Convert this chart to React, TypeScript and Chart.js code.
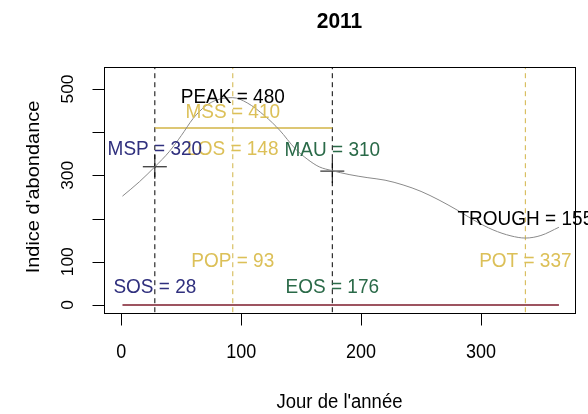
import React, { useEffect, useRef } from "react";
import { Chart, registerables } from "chart.js";

Chart.register(...registerables);

// ---- data ----
const days = [1, 15, 28, 40, 50, 60, 70, 80, 93, 105, 120, 132, 145, 155, 165, 176, 190, 205, 220, 235, 250, 265, 280, 295, 310, 325, 337, 350, 365];
const abundance = [252, 285, 320, 355, 392, 432, 460, 475, 480, 468, 437, 405, 362, 338, 320, 311, 302, 295, 289, 278, 263, 243, 220, 195, 174, 160, 155, 161, 180];

const SOS = 28;
const EOS = 176;
const LOS = 148;
const POP = 93;
const POT = 337;
const MSP = 320;
const MAU = 310;
const MSS = 410;
const PEAK = 480;
const TROUGH = 155;

const xTicks = [0, 100, 200, 300];
const yTicks = [0, 100, 200, 300, 400, 500];
const yTickLabels = ["0", "100", "", "300", "", "500"];

const TITLE = "2011";
const X_TITLE = "Jour de l'année";
const Y_TITLE = "Indice d'abondance";

// ---- styles ----
const FONT = '"Liberation Sans", Arial, sans-serif';
const VS = 1.08;
const GOLD_TEXT = "#dcc058";
const GOLD_LINE = "#d2b446";
const BLUE = "#30307e";
const GREEN = "#2a6a48";
const BASE = "#7d1b2b";

const labels = [
  { text: `MSS = ${MSS}`, x: POP, y: MSS, dy: -16, color: GOLD_TEXT },
  { text: `LOS = ${LOS}`, x: POP, y: MSP, dy: -17, color: GOLD_TEXT },
  { text: `POP = ${POP}`, x: POP, y: 100, dy: 0, color: GOLD_TEXT },
  { text: `POT = ${POT}`, x: POT, y: 100, dy: 0, color: GOLD_TEXT },
  { text: `MSP = ${MSP}`, x: SOS, y: MSP, dy: -17, color: BLUE },
  { text: `MAU = ${MAU}`, x: EOS, y: MAU, dy: -21, color: GREEN },
  { text: `SOS = ${SOS}`, x: SOS, y: 0, dy: -18, color: BLUE },
  { text: `EOS = ${EOS}`, x: EOS, y: 0, dy: -18, color: GREEN },
  { text: `PEAK = ${PEAK}`, x: POP, y: PEAK, dy: 0, color: "#000" },
  { text: `TROUGH = ${TROUGH}`, x: POT, y: TROUGH, dy: -19, color: "#000" },
];

function drawText(
  ctx: CanvasRenderingContext2D,
  text: string,
  x: number,
  y: number,
  size: number,
  color: string,
  opts: { bold?: boolean; rotate?: boolean; vs?: number } = {}
) {
  ctx.save();
  ctx.translate(x, y);
  ctx.scale(1, opts.vs ?? VS);
  if (opts.rotate) ctx.rotate(-Math.PI / 2);
  ctx.font = `${opts.bold ? "bold " : ""}${size}px ${FONT}`;
  ctx.fillStyle = color;
  ctx.textAlign = "center";
  ctx.textBaseline = "middle";
  ctx.fillText(text, 0, 0);
  ctx.restore();
}

const decorPlugin = {
  id: "rdecor",
  afterDatasetsDraw(chart: any) {
    const ctx: CanvasRenderingContext2D = chart.ctx;
    const xs = chart.scales.x;
    const ys = chart.scales.y;
    const ca = chart.chartArea;

    // annotations
    for (const l of labels) {
      drawText(ctx, l.text, xs.getPixelForValue(l.x), ys.getPixelForValue(l.y) + l.dy, 19, l.color);
    }

    ctx.save();
    ctx.strokeStyle = "#000";
    ctx.lineWidth = 1;
    // box
    ctx.strokeRect(Math.round(ca.left) + 0.5, Math.round(ca.top) + 0.5, Math.round(ca.right - ca.left), Math.round(ca.bottom - ca.top));
    // x axis
    const by = Math.round(ca.bottom) + 0.5;
    ctx.beginPath();
    for (const t of xTicks) {
      const px = Math.round(xs.getPixelForValue(t)) + 0.5;
      ctx.moveTo(px, by);
      ctx.lineTo(px, by + 12);
    }
    ctx.stroke();
    for (const t of xTicks) {
      drawText(ctx, String(t), xs.getPixelForValue(t), ca.bottom + 40, 18, "#000");
    }
    // y axis
    const lx = Math.round(ca.left) + 0.5;
    ctx.beginPath();
    for (const t of yTicks) {
      const py = Math.round(ys.getPixelForValue(t)) + 0.5;
      ctx.moveTo(lx, py);
      ctx.lineTo(lx - 12, py);
    }
    ctx.stroke();
    yTicks.forEach((t, i) => {
      if (yTickLabels[i]) drawText(ctx, yTickLabels[i], ca.left - 35, ys.getPixelForValue(t), 16, "#000", { rotate: true });
    });
    ctx.restore();

    // titles
    drawText(ctx, X_TITLE, (ca.left + ca.right) / 2, ca.bottom + 89, 18.5, "#000");
    drawText(ctx, Y_TITLE, ca.left - 70, (ca.top + ca.bottom) / 2 - 3, 18.5, "#000", { rotate: true });
    drawText(ctx, TITLE, (ca.left + ca.right) / 2, 22, 21, "#000", { bold: true, vs: 1.05 });
  },
};

const vline = (x: number, color: string) => ({
  data: [
    { x, y: -100 },
    { x, y: 700 },
  ],
  borderColor: color,
  borderWidth: 1,
  borderDash: [5, 4],
  pointRadius: 0,
  fill: false,
});

export default function App() {
  const ref = useRef<HTMLCanvasElement>(null);

  useEffect(() => {
    if (!ref.current) return;
    const chart = new Chart(ref.current, {
      type: "line",
      data: {
        datasets: [
          {
            data: [
              { x: 1, y: 0 },
              { x: 365, y: 0 },
            ],
            borderColor: BASE,
            borderWidth: 1.6,
            pointRadius: 0,
          },
          {
            data: days.map((d, i) => ({ x: d, y: abundance[i] })),
            borderColor: "#8a8a8a",
            borderWidth: 1,
            pointRadius: 0,
            cubicInterpolationMode: "monotone",
          },
          {
            data: [
              { x: SOS, y: MSS },
              { x: EOS, y: MSS },
            ],
            borderColor: GOLD_LINE,
            borderWidth: 1.5,
            pointRadius: 0,
          },
          vline(SOS, "#000"),
          vline(EOS, "#000"),
          vline(POP, GOLD_LINE),
          vline(POT, GOLD_LINE),
          {
            data: [
              { x: SOS, y: MSP },
              { x: EOS, y: MAU },
            ],
            showLine: false,
            pointStyle: "cross",
            pointRadius: 12,
            pointBorderColor: "#000",
            pointBorderWidth: 1,
            borderColor: "#000",
          },
        ] as any,
      },
      options: {
        responsive: false,
        animation: false,
        devicePixelRatio: 1,
        layout: { padding: { left: 104, top: 67, right: 3, bottom: 101 } },
        plugins: { legend: { display: false }, tooltip: { enabled: false } },
        scales: {
          x: { type: "linear", min: -14.4, max: 378.4, display: false },
          y: { type: "linear", min: -18.5, max: 551, display: false },
        },
      },
      plugins: [decorPlugin],
    });
    return () => chart.destroy();
  }, []);

  return (
    <div style={{ position: "fixed", left: 0, top: 0, width: 588, height: 414, background: "#fff" }}>
      <canvas ref={ref} width={588} height={414} style={{ display: "block" }} />
    </div>
  );
}
